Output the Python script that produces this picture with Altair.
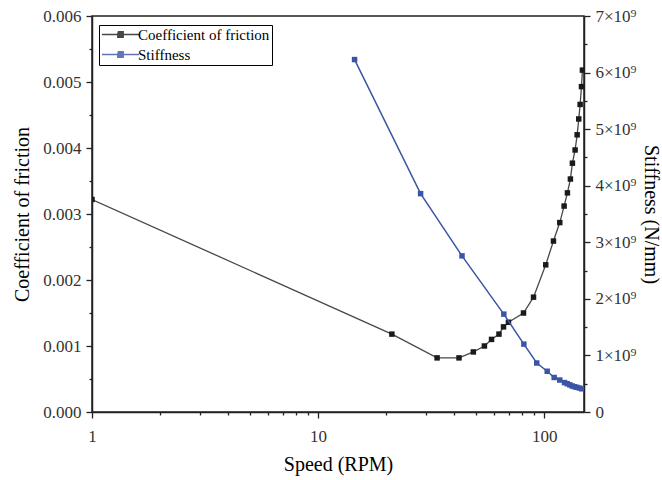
import altair as alt
import pandas as pd

# Coefficient of friction series
cof_speed = [1.0, 21.2, 33.6, 42.0, 48.6, 54.4, 58.5, 63.1, 66.1, 69.5, 81.0, 89.7,
             101.6, 109.9, 117.2, 122.5, 126.7, 130.6, 133.3, 137.0, 139.9, 142.2,
             144.2, 146.2, 147.6]
cof_value = [0.00322, 0.00118, 0.00082, 0.00082, 0.00091, 0.00100, 0.00110, 0.00118,
             0.00129, 0.00136, 0.00150, 0.00174, 0.00223, 0.00259, 0.00287, 0.00312,
             0.00332, 0.00353, 0.00377, 0.00397, 0.00420, 0.00444, 0.00466, 0.00493,
             0.00518]

# Stiffness series (N/mm)
stiff_speed = [14.5, 28.4, 43.3, 66.3, 81.3, 92.7, 103.1, 110.7, 117.2, 123.0, 126.4,
               129.8, 133.0, 136.1, 139.3, 143.2, 146.6]
stiff_value = [6.23e9, 3.86e9, 2.76e9, 1.73e9, 1.20e9, 0.866e9, 0.72e9, 0.61e9, 0.565e9,
               0.52e9, 0.50e9, 0.48e9, 0.46e9, 0.447e9, 0.436e9, 0.424e9, 0.41e9]

series_names = ["Coefficient of friction", "Stiffness"]
series_colors = ["#1a1a1a", "#3B55A6"]

x_ticks = [1, 2, 3, 4, 5, 6, 7, 8, 9, 10, 20, 30, 40, 50, 60, 70, 80, 90, 100]
left_ticks = [i * 0.0005 for i in range(13)]
right_ticks = [i * 0.5e9 for i in range(15)]

cof_df = pd.DataFrame({"speed": cof_speed, "value": cof_value, "series": series_names[0]})
stiff_df = pd.DataFrame({"speed": stiff_speed, "value": stiff_value, "series": series_names[1]})

FONT = "Liberation Serif"
AX = "#222222"

# line with a filled square in the middle (unit = 5px with symbolSize 100)
legend_path = ("M-3.7,0H3.7M-0.55,-0.55H0.55V0.55H-0.55V-0.25H0.25V0.25H-0.25V0H0.25")

color = alt.Color(
    "series:N",
    scale=alt.Scale(domain=series_names, range=series_colors),
    legend=alt.Legend(
        title=None, orient="none", legendX=7, legendY=9,
        strokeColor="black", padding=2, fillColor="white",
        symbolType=legend_path, symbolSize=100, symbolStrokeWidth=1.3,
        symbolOffset=12, labelOffset=10,
        labelFont=FONT, labelFontSize=15, labelColor="black",
        rowPadding=4,
    ),
)

x_enc = alt.X(
    "speed:Q",
    scale=alt.Scale(type="log", domain=[1, 150], nice=False),
    axis=alt.Axis(
        title="Speed (RPM)", values=x_ticks,
        labelExpr="(datum.value == 1 || datum.value == 10 || datum.value == 100) ? format(datum.value, 'd') : ''",
        tickSize={"condition": {"test": "datum.value == 1 || datum.value == 10 || datum.value == 100", "value": 6}, "value": 3},
        labelPadding=10, titlePadding=10,
    ),
)

y_left = alt.Y(
    "value:Q",
    scale=alt.Scale(domain=[0, 0.006], nice=False),
    axis=alt.Axis(
        title="Coefficient of friction", orient="left", values=left_ticks,
        labelExpr="round(datum.value * 2000) % 2 == 0 ? format(datum.value, '.3f') : ''",
        tickSize={"condition": {"test": "round(datum.value * 2000) % 2 == 0", "value": 6}, "value": 3},
        labelPadding=5, titlePadding=10,
    ),
)

y_right = alt.Y(
    "value:Q",
    scale=alt.Scale(domain=[0, 7e9], nice=False),
    axis=alt.Axis(
        title="Stiffness (N/mm)", orient="right", values=right_ticks,
        labelExpr="round(datum.value / 5e8) % 2 == 0 ? (datum.value == 0 ? '0' : format(datum.value / 1e9, 'd') + '×10⁹') : ''",
        tickSize={"condition": {"test": "round(datum.value / 5e8) % 2 == 0", "value": 6}, "value": 3},
        labelPadding=5, titlePadding=4,
    ),
)

cof_line = alt.Chart(cof_df).mark_line(strokeWidth=1.3, opacity=0.8, clip=True).encode(
    x=x_enc, y=y_left, color=color)
cof_pts = alt.Chart(cof_df).mark_point(shape="square", filled=True, size=30, opacity=1, clip=True).encode(
    x=x_enc, y=y_left, color=color)
stiff_line = alt.Chart(stiff_df).mark_line(strokeWidth=1.5, clip=True).encode(
    x=x_enc, y=y_right, color=color)
stiff_pts = alt.Chart(stiff_df).mark_point(shape="square", filled=True, size=30, opacity=1, clip=True).encode(
    x=x_enc, y=y_right, color=color)

left = alt.layer(cof_line, cof_pts)
right = alt.layer(stiff_line, stiff_pts)

chart = alt.layer(left, right).resolve_scale(y="independent").properties(
    width=492, height=396,
    autosize=alt.AutoSizeParams(type="none"),
    padding={"left": 92, "top": 16, "right": 78, "bottom": 68},
    background="white",
).configure_view(
    stroke=AX, strokeWidth=1.5
).configure_axis(
    grid=False, domainColor=AX, domainWidth=1.5, tickColor=AX, tickWidth=1.3,
    labelFont=FONT, labelFontSize=17, labelColor="#333333",
    titleFont=FONT, titleFontSize=20, titleFontWeight="normal", titleColor="black",
    labelOverlap=False, labelBound=False, labelFlush=False,
)

chart.save("out.html", embed_options={"renderer": "svg", "actions": False})
